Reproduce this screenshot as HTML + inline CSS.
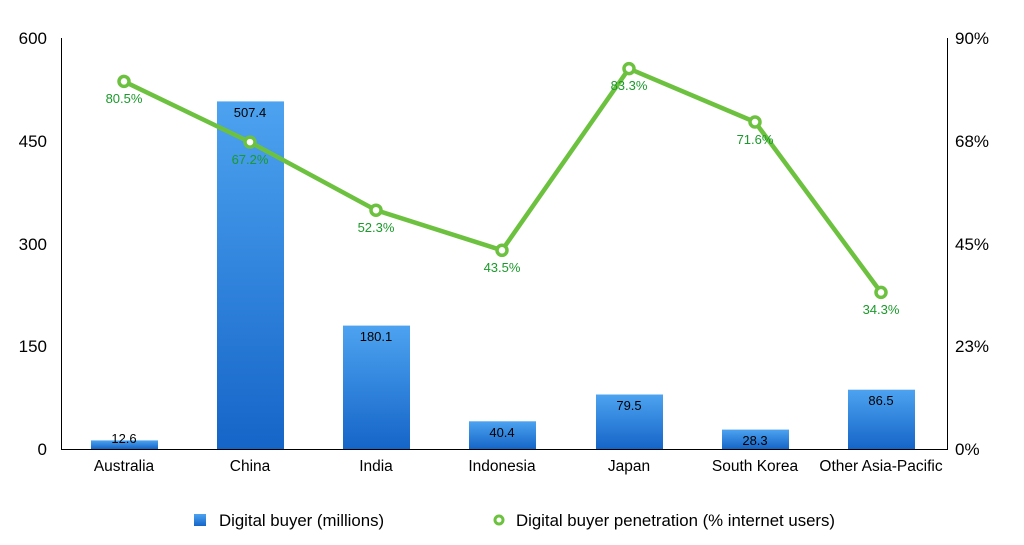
<!DOCTYPE html>
<html><head><meta charset="utf-8"><style>body{margin:0;background:#fff}svg{display:block}text{font-family:"Liberation Sans",sans-serif}</style></head><body>
<svg width="1024" height="545" viewBox="0 0 1024 545">
<defs><linearGradient id="g" x1="0" y1="0" x2="0" y2="1"><stop offset="0" stop-color="#4da3f0"/><stop offset="1" stop-color="#1565c8"/></linearGradient>
<linearGradient id="g2" x1="0" y1="0" x2="0" y2="1"><stop offset="0" stop-color="#4da3f0"/><stop offset="1" stop-color="#1565c8"/></linearGradient></defs>
<g fill="url(#g)">
<rect x="91" y="440.4" width="67" height="8.6"/>
<rect x="217" y="101.4" width="67" height="347.6"/>
<rect x="343" y="325.6" width="67" height="123.4"/>
<rect x="469" y="421.3" width="67" height="27.7"/>
<rect x="596" y="394.5" width="67" height="54.5"/>
<rect x="722" y="429.6" width="67" height="19.4"/>
<rect x="848" y="389.7" width="67" height="59.3"/>
</g>
<g stroke="#000" stroke-width="1" fill="none">
<line x1="61.5" y1="38" x2="61.5" y2="449"/>
<line x1="947.5" y1="38" x2="947.5" y2="449"/>
<line x1="61" y1="449.5" x2="948" y2="449.5"/>
</g>
<g font-size="17" fill="#000" text-anchor="end">
<text x="47" y="44">600</text><text x="47" y="147">450</text><text x="47" y="250">300</text><text x="47" y="352">150</text><text x="47" y="455">0</text>
</g>
<g font-size="17" fill="#000" text-anchor="start">
<text x="955" y="44">90%</text><text x="955" y="147">68%</text><text x="955" y="250">45%</text><text x="955" y="352">23%</text><text x="955" y="455">0%</text>
</g>
<g font-size="15.5" fill="#000" text-anchor="middle">
<text x="124" y="471">Australia</text><text x="250" y="471">China</text><text x="376" y="471">India</text><text x="502" y="471">Indonesia</text><text x="629" y="471">Japan</text><text x="755" y="471">South Korea</text><text x="881" y="471">Other Asia-Pacific</text>
</g>
<g font-size="13" fill="#000" text-anchor="middle">
<text x="124" y="443">12.6</text><text x="250" y="117">507.4</text><text x="376" y="341">180.1</text><text x="502" y="437">40.4</text><text x="629" y="410">79.5</text><text x="755" y="445">28.3</text><text x="881" y="405">86.5</text>
</g>
<polyline points="124,81.4 250,142.1 376,210.2 502,250.3 629,68.6 755,122 881,292.4" fill="none" stroke="#6cc13f" stroke-width="4.5" stroke-linejoin="round"/>
<g fill="#fff" stroke="#6cc13f" stroke-width="3.5">
<circle cx="124" cy="81.4" r="5"/><circle cx="250" cy="142.1" r="5"/><circle cx="376" cy="210.2" r="5"/><circle cx="502" cy="250.3" r="5"/><circle cx="629" cy="68.6" r="5"/><circle cx="755" cy="122" r="5"/><circle cx="881" cy="292.4" r="5"/>
</g>
<g font-size="13" fill="#1a9a2a" text-anchor="middle">
<text x="124" y="103">80.5%</text><text x="250" y="164">67.2%</text><text x="376" y="232">52.3%</text><text x="502" y="272">43.5%</text><text x="629" y="90">83.3%</text><text x="755" y="144">71.6%</text><text x="881" y="314">34.3%</text>
</g>
<rect x="194" y="514" width="12" height="12" fill="url(#g2)"/>
<text x="219" y="526" font-size="16.8" fill="#000">Digital buyer (millions)</text>
<circle cx="499" cy="520" r="4" fill="#fff" stroke="#6cc13f" stroke-width="3"/>
<text x="516" y="526" font-size="16.8" fill="#000">Digital buyer penetration (% internet users)</text>
</svg>
</body></html>
